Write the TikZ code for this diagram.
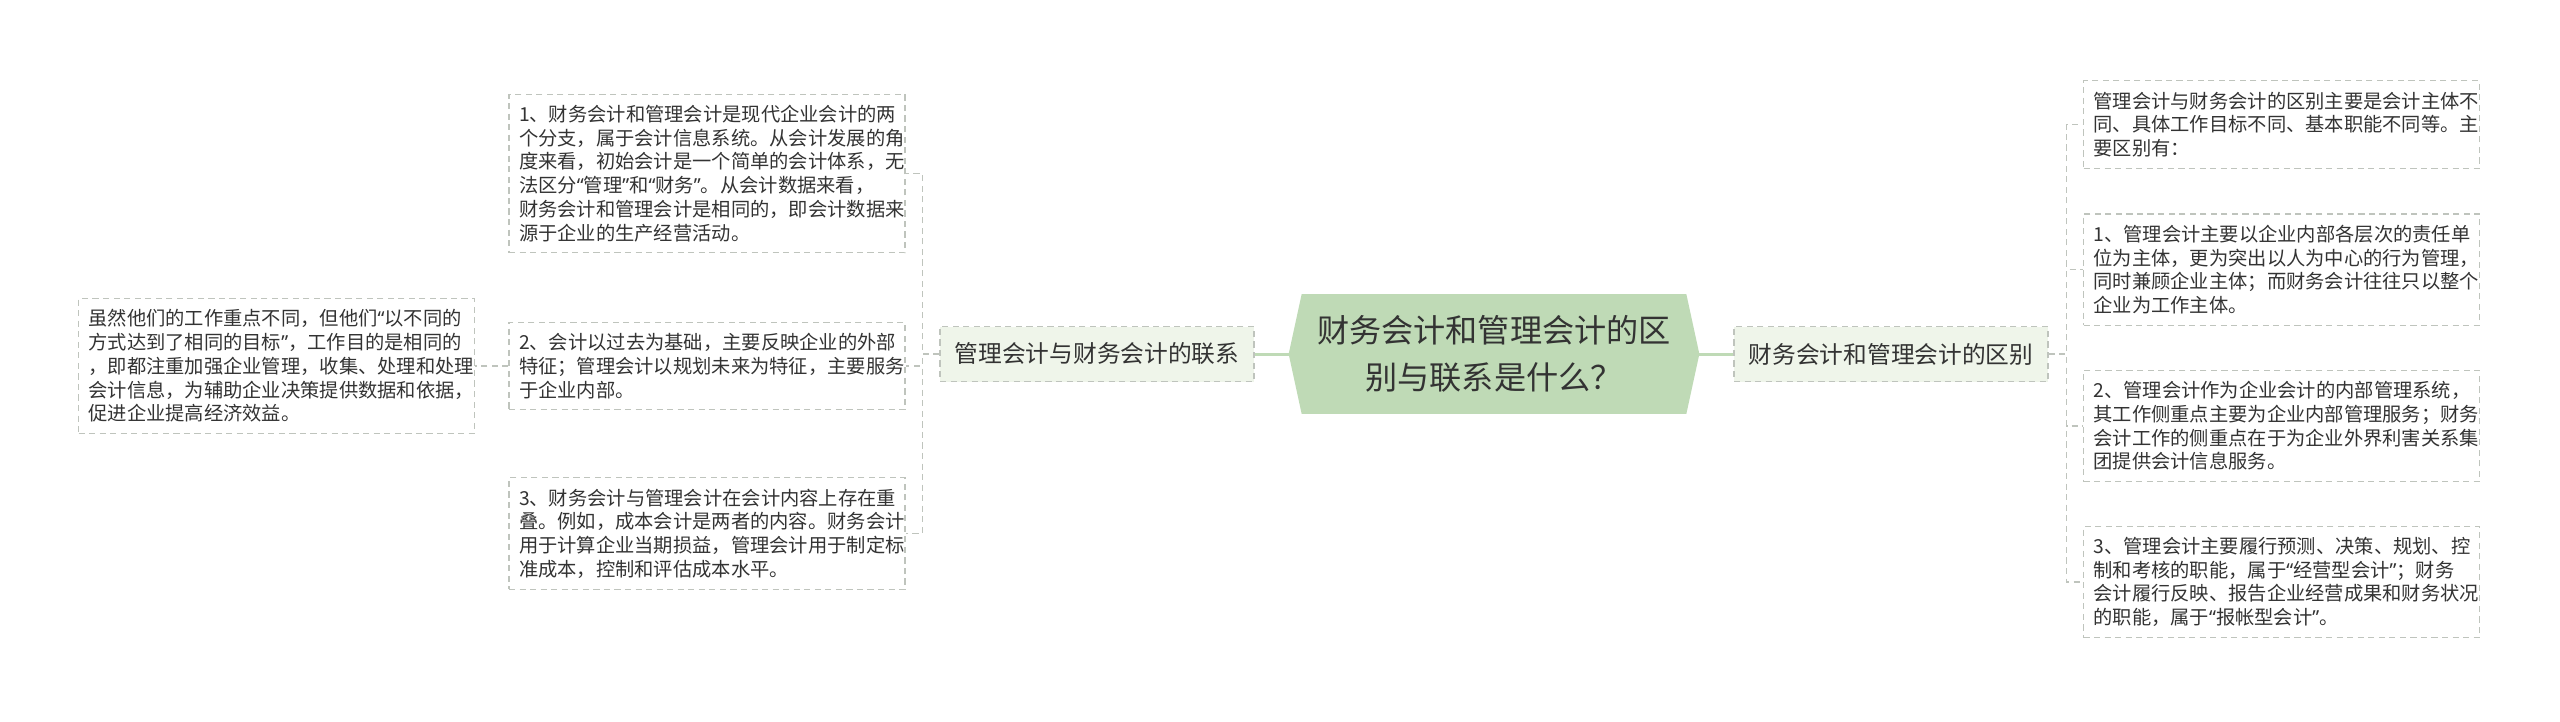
\documentclass[tikz,border=0pt]{standalone}
\usepackage{fontspec}
\setmainfont{Noto Sans CJK SC}
\newfontfamily\quotefont{Noto Sans}
\newcommand{\qopen}{{\quotefont “}}
\newcommand{\qclose}{{\quotefont ”}}
\usepackage{tikz}
\usetikzlibrary{calc}
\usetikzlibrary{backgrounds}

\definecolor{titlegreen}{HTML}{BFDAB6}
\definecolor{branchgreen}{HTML}{EFF5EA}
\definecolor{textgray}{HTML}{333333}
\definecolor{linegray}{HTML}{BFC4BD}

\tikzset{
    title/.style = {minimum width = 8.2cm, minimum height = 2.38cm, inner sep = 0pt, align = center,
        font = \fontsize{18.3pt}{26.9pt}\selectfont, text = textgray},
    branch/.style = {draw = linegray, fill = branchgreen, dash pattern = on 3.5pt off 2.5pt, line width = .7pt,
        minimum width = 6.28cm, minimum height = 1.1cm, font = \fontsize{13.5pt}{16pt}\selectfont, text = textgray},
    leaf/.style = {draw = linegray, dash pattern = on 3.5pt off 2.5pt, line width = .6pt, text width = 7.52cm,
        inner xsep = .2cm, inner ysep = .22cm, align = left, font = \fontsize{10.97pt}{13.5pt}\selectfont, text = textgray},
    link/.style = {draw = linegray, dash pattern = on 3.5pt off 2.5pt, line width = .8pt},
    trunk/.style = {draw = titlegreen, line width = 1.7pt}
}

\begin{document}
\begin{tikzpicture}
    \useasboundingbox (0,0) rectangle (51.2,-14.42);
    \node[title] (title) at (29.88,-7.08) {财务会计和管理会计的区\\别与联系是什么？};
    \begin{scope}[on background layer]
        \fill[titlegreen] (title.west) -- ([xshift = .26cm]title.north west) -- ([xshift = -.26cm]title.north east)
            -- (title.east) -- ([xshift = -.26cm]title.south east) -- ([xshift = .26cm]title.south west) -- cycle;
    \end{scope}
    \node[branch] (lb) at (21.94,-7.08) {管理会计与财务会计的联系};
    \node[branch] (rb) at (37.82,-7.08) {财务会计和管理会计的区别};
    \draw[trunk] (title.west)--(lb.east);
    \draw[trunk] (title.east)--(rb.west);

    \node[leaf] (l1) at (14.14,-3.47) {1、财务会计和管理会计是现代企业会计的两\\个分支，属于会计信息系统。从会计发展的角\\度来看，初始会计是一个简单的会计体系，无\\法区分\qopen 管理\qclose 和\qopen 财务\qclose 。从会计数据来看，\\财务会计和管理会计是相同的，即会计数据来\\源于企业的生产经营活动。};
    \node[leaf] (l2) at (14.14,-7.32) {2、会计以过去为基础，主要反映企业的外部\\特征；管理会计以规划未来为特征，主要服务\\于企业内部。};
    \node[leaf] (l3) at (14.14,-10.67) {3、财务会计与管理会计在会计内容上存在重\\叠。例如，成本会计是两者的内容。财务会计\\用于计算企业当期损益，管理会计用于制定标\\准成本，控制和评估成本水平。};
    \node[leaf] (fl) at (5.53,-7.32) {虽然他们的工作重点不同，但他们\qopen 以不同的\\方式达到了相同的目标\qclose ，工作目的是相同的\\，即都注重加强企业管理，收集、处理和处理\\会计信息，为辅助企业决策提供数据和依据，\\促进企业提高经济效益。};

    \node[leaf] (r0) at (45.63,-2.49) {管理会计与财务会计的区别主要是会计主体不\\同、具体工作目标不同、基本职能不同等。主\\要区别有：};
    \node[leaf] (r1) at (45.63,-5.39) {1、管理会计主要以企业内部各层次的责任单\\位为主体，更为突出以人为中心的行为管理，\\同时兼顾企业主体；而财务会计往往只以整个\\企业为工作主体。};
    \node[leaf] (r2) at (45.63,-8.52) {2、管理会计作为企业会计的内部管理系统，\\其工作侧重点主要为企业内部管理服务；财务\\会计工作的侧重点在于为企业外界利害关系集\\团提供会计信息服务。};
    \node[leaf] (r3) at (45.63,-11.64) {3、管理会计主要履行预测、决策、规划、控\\制和考核的职能，属于\qopen 经营型会计\qclose ；财务\\会计履行反映、报告企业经营成果和财务状况\\的职能，属于\qopen 报帐型会计\qclose 。};

    \coordinate (lj) at ($(lb.west)+(-.34,0)$);
    \foreach \n in {l1,l2,l3}
        \draw[link] (lb.west)--(lj)|-(\n.east);
    \draw[link] (l2.west)--(fl.east);
    \coordinate (rj) at ($(rb.east)+(.36,0)$);
    \foreach \n in {r0,r1,r2,r3}
        \draw[link] (rb.east)--(rj)|-(\n.west);
\end{tikzpicture}
\end{document}
